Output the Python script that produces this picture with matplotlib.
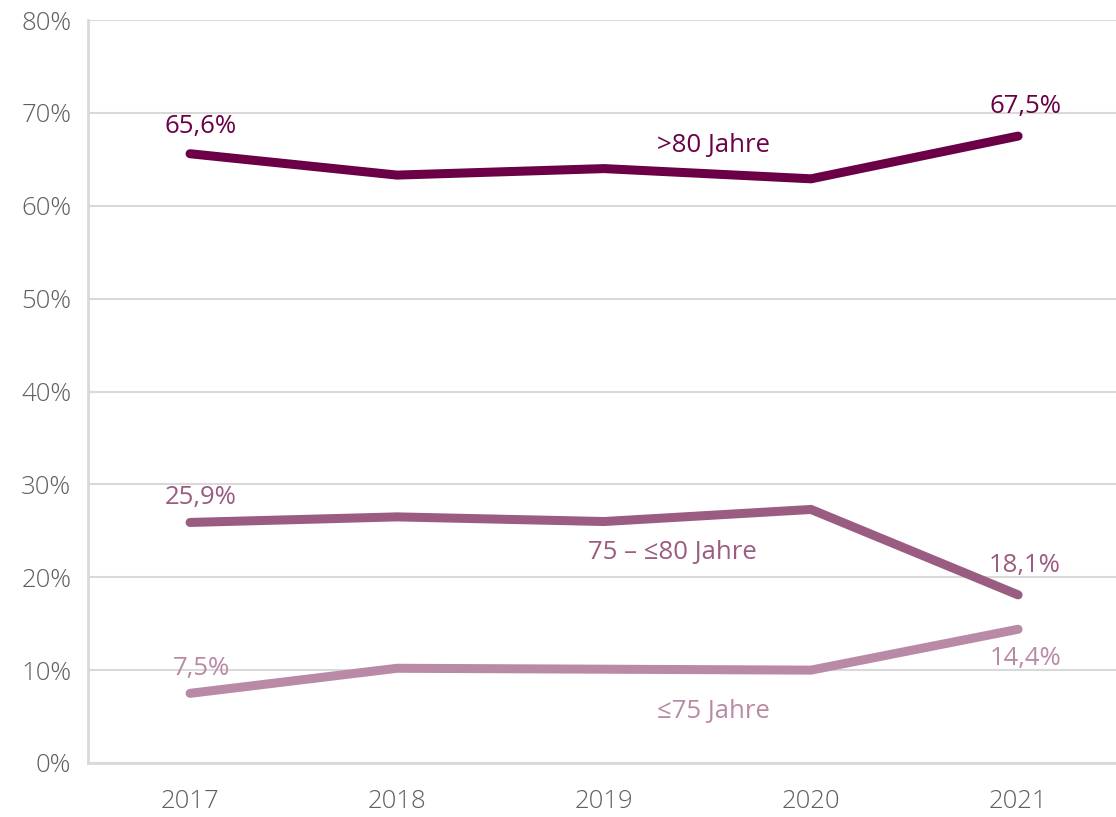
import matplotlib
matplotlib.use("Agg")
import matplotlib.pyplot as plt
from matplotlib.ticker import FuncFormatter

years = [2017, 2018, 2019, 2020, 2021]
over_80 = [65.6, 63.3, 64.0, 62.9, 67.5]
age_75_80 = [25.9, 26.5, 26.0, 27.3, 18.1]
upto_75 = [7.5, 10.2, 10.1, 10.0, 14.4]

series_names = [">80 Jahre", "75 – ≤80 Jahre", "≤75 Jahre"]
y_ticks = [0, 10, 20, 30, 40, 50, 60, 70, 80]

colors = ["#6b0046", "#9a5c80", "#b98aa5"]
grid_color = "#d9d9d9"
tick_color = "#606060"

fig = plt.figure(figsize=(11.16, 8.17), dpi=100)
ax = fig.add_axes([88 / 1116, 54 / 817, 1 - 88 / 1116, (763 - 20) / 817])

ax.set_xlim(2016.507, 2021.473)
ax.set_ylim(0, 80)
ax.set_yticks(y_ticks)
ax.set_xticks(years)
ax.yaxis.set_major_formatter(FuncFormatter(lambda v, p: f"{int(v)}%"))
ax.grid(axis="y", color=grid_color, linewidth=1.5)
ax.set_axisbelow(True)
for side in ("top", "right"):
    ax.spines[side].set_visible(False)
for side in ("left", "bottom"):
    ax.spines[side].set_color(grid_color)
    ax.spines[side].set_linewidth(2)
ax.tick_params(length=0, labelsize=18.5, labelcolor=tick_color)
ax.tick_params(axis="y", pad=12)
ax.tick_params(axis="x", pad=19)
for lab in ax.get_xticklabels() + ax.get_yticklabels():
    lab.set_fontfamily("Open Sans")
    lab.set_fontweight("light")

all_series = [over_80, age_75_80, upto_75]
for vals, c in zip(all_series, colors):
    ax.plot(years, vals, color=c, linewidth=6.5, solid_capstyle="round",
            solid_joinstyle="miter")


def fmt(v):
    return f"{v:.1f}".replace(".", ",") + "%"


label_font = dict(fontsize=18.5, family="Open Sans", ha="center", va="center")

# value labels at first and last year (offsets in pixels)
end_offsets = [
    ((11, 27), (7, 30)),    # >80
    ((11, 25), (7, 29)),    # 75-80
    ((11, 25), (7, -29)),   # <=75
]
for vals, c, (o_first, o_last) in zip(all_series, colors, end_offsets):
    ax.annotate(fmt(vals[0]), (years[0], vals[0]), xytext=o_first,
                textcoords="offset pixels", color=c, **label_font)
    ax.annotate(fmt(vals[-1]), (years[-1], vals[-1]), xytext=o_last,
                textcoords="offset pixels", color=c, **label_font)

# series names placed along the lines
name_pos = [(2019.527, 66.5), (2019.33, 22.7), (2019.527, 5.5)]
for name, c, (x, y) in zip(series_names, colors, name_pos):
    ax.text(x, y, name, color=c, **label_font)

fig.savefig("out.png", dpi=100)
